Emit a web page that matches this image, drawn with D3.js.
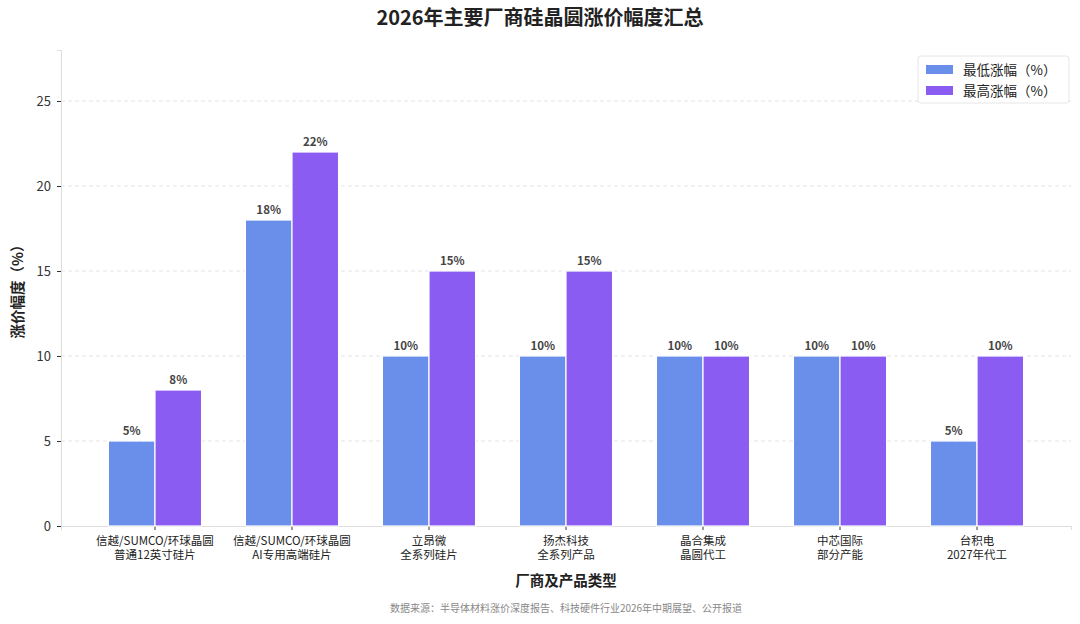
<!DOCTYPE html>
<html>
<head>
<meta charset="utf-8">
<script src="https://cdn.jsdelivr.net/npm/d3@7"></script>
<style>
  body { margin: 0; background: #fff; }
  text { font-family: "Noto Sans CJK SC", "Noto Sans", sans-serif; }
</style>
</head>
<body>
<div id="chart"></div>
<script>
// chart data
let categories = [
    ["信越/SUMCO/环球晶圆", "普通12英寸硅片"],
    ["信越/SUMCO/环球晶圆", "AI专用高端硅片"],
    ["立昂微", "全系列硅片"],
    ["扬杰科技", "全系列产品"],
    ["晶合集成", "晶圆代工"],
    ["中芯国际", "部分产能"],
    ["台积电", "2027年代工"]
];
let lowValues = [5, 18, 10, 10, 10, 10, 5];
let highValues = [8, 22, 15, 15, 10, 10, 10];
let seriesNames = ["最低涨幅（%）", "最高涨幅（%）"];
let seriesColors = ["#6a8fea", "#8b5cf2"];
let yTicks = [0, 5, 10, 15, 20, 25];

let width = 1080,
    height = 624;
let margin = {top: 50, right: 9, bottom: 98, left: 61};
let innerW = width - margin.left - margin.right,
    innerH = height - margin.top - margin.bottom;

let svg = d3.select("#chart")
    .append("svg")
    .attr("width", width)
    .attr("height", height);

let g = svg.append("g")
    .attr("transform", `translate(${margin.left}, ${margin.top})`);

let x = d3.scaleBand()
    .domain(d3.range(categories.length))
    .range([0, innerW])
    .paddingInner(0)
    .paddingOuter(0.186);

let y = d3.scaleLinear()
    .domain([0, 28])
    .range([innerH, 0]);

let barW = x.bandwidth() * 0.34;
let groupW = barW * 2;

// grid lines
g.append("g")
    .selectAll("line")
    .data(yTicks.filter(function(d) { return d > 0; }))
    .enter()
    .append("line")
    .attr("x1", 0)
    .attr("x2", innerW)
    .attr("y1", function(d) { return y(d); })
    .attr("y2", function(d) { return y(d); })
    .attr("stroke", "#e3e3e3")
    .attr("stroke-dasharray", "4,3");

// y axis
let yAxis = g.append("g")
    .call(d3.axisLeft(y).tickValues(yTicks).tickSize(4).tickPadding(6));
yAxis.select(".domain").attr("stroke", "#dddddd");
yAxis.selectAll(".tick line").attr("stroke", "#333");
yAxis.selectAll(".tick text").attr("fill", "#333").style("font-size", "13px");

// x axis
let xAxis = g.append("g")
    .attr("transform", `translate(0, ${innerH})`)
    .call(d3.axisBottom(x).tickSize(4).tickFormat(""));
xAxis.select(".domain").attr("stroke", "#dddddd");
xAxis.selectAll(".tick line").attr("stroke", "#333");

let catLabels = g.append("g").selectAll("text")
    .data(categories)
    .enter()
    .append("text")
    .attr("x", function(d, i) { return x(i) + x.bandwidth() / 2; })
    .attr("y", innerH + 19)
    .attr("text-anchor", "middle")
    .attr("fill", "#222")
    .style("font-size", "11.5px");
catLabels.append("tspan")
    .attr("x", function(d, i) { return x(i) + x.bandwidth() / 2; })
    .text(function(d) { return d[0]; });
catLabels.append("tspan")
    .attr("x", function(d, i) { return x(i) + x.bandwidth() / 2; })
    .attr("dy", 14)
    .text(function(d) { return d[1]; });

// bars
let series = [lowValues, highValues];
series.forEach(function(vals, s) {
    let offset = -groupW / 2 + s * barW;
    g.append("g")
        .selectAll("rect")
        .data(vals)
        .enter()
        .append("rect")
        .attr("x", function(d, i) { return x(i) + x.bandwidth() / 2 + offset; })
        .attr("y", function(d) { return y(d); })
        .attr("width", barW)
        .attr("height", function(d) { return innerH - y(d); })
        .attr("fill", seriesColors[s])
        .attr("stroke", "#fff")
        .attr("stroke-width", 1.2);

    g.append("g")
        .selectAll("text")
        .data(vals)
        .enter()
        .append("text")
        .attr("x", function(d, i) { return x(i) + x.bandwidth() / 2 + offset + barW / 2; })
        .attr("y", function(d) { return y(d) - 6; })
        .attr("text-anchor", "middle")
        .attr("fill", "#444")
        .style("font-size", "11.5px")
        .style("font-weight", "bold")
        .text(function(d) { return d + "%"; });
});

// legend
let legend = svg.append("g")
    .attr("transform", "translate(918, 56)");
legend.append("rect")
    .attr("width", 151)
    .attr("height", 47)
    .attr("rx", 3)
    .attr("fill", "#fff")
    .attr("stroke", "#e6e6e6");
seriesNames.forEach(function(name, i) {
    legend.append("rect")
        .attr("x", 8)
        .attr("y", 9 + i * 21)
        .attr("width", 27)
        .attr("height", 9)
        .attr("fill", seriesColors[i]);
    legend.append("text")
        .attr("x", 45)
        .attr("y", 18.5 + i * 21)
        .attr("fill", "#222")
        .style("font-size", "13.5px")
        .text(name);
});

// titles
svg.append("text")
    .attr("x", width / 2)
    .attr("y", 25)
    .attr("text-anchor", "middle")
    .attr("fill", "#222")
    .style("font-size", "20px")
    .style("font-weight", "bold")
    .text("2026年主要厂商硅晶圆涨价幅度汇总");

svg.append("text")
    .attr("x", margin.left + innerW / 2)
    .attr("y", 586)
    .attr("text-anchor", "middle")
    .attr("fill", "#222")
    .style("font-size", "14.5px")
    .style("font-weight", "bold")
    .text("厂商及产品类型");

svg.append("text")
    .attr("transform", `translate(23, ${margin.top + innerH / 2}) rotate(-90)`)
    .attr("text-anchor", "middle")
    .attr("fill", "#222")
    .style("font-size", "14.5px")
    .style("font-weight", "bold")
    .text("涨价幅度（%）");

svg.append("text")
    .attr("x", margin.left + innerW / 2)
    .attr("y", 612)
    .attr("text-anchor", "middle")
    .attr("fill", "#888")
    .style("font-size", "10px")
    .text("数据来源：半导体材料涨价深度报告、科技硬件行业2026年中期展望、公开报道");
</script>
</body>
</html>
